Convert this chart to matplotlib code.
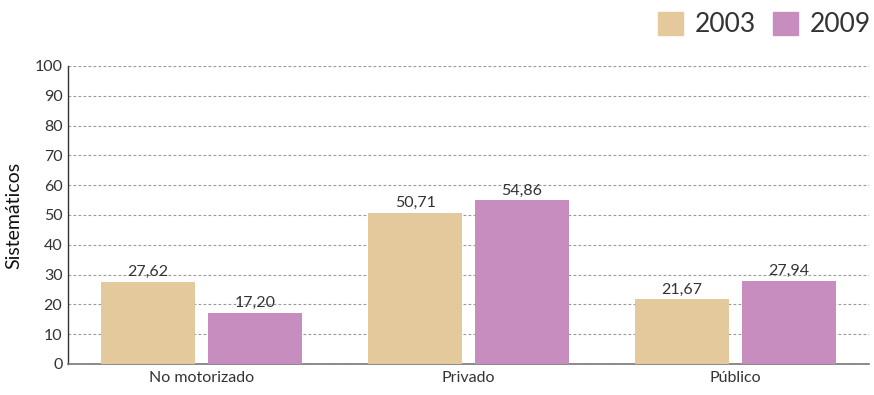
import numpy as np
import matplotlib
matplotlib.use("Agg")
import matplotlib.pyplot as plt
from matplotlib.patches import Patch

categories = ["No motorizado", "Privado", "Público"]
years = ["2003", "2009"]
values_2003 = [27.62, 50.71, 21.67]
values_2009 = [17.20, 54.86, 27.94]
colors = ["#e3c99c", "#c78dbf"]

plt.rcParams['font.family'] = ['Lato', 'DejaVu Sans']

fig = plt.figure(figsize=(8.74, 3.95), dpi=100)
ax = fig.add_axes([0.0778, 0.0785, 0.9165, 0.7545])

x = np.arange(len(categories))
w = 0.352
for vals, off, c in [(values_2003, -0.2, colors[0]), (values_2009, 0.2, colors[1])]:
    bars = ax.bar(x + off, vals, width=w, color=c, zorder=3)
    for b, v in zip(bars, vals):
        ax.text(b.get_x() + b.get_width() / 2, v + 1.0, f"{v:.2f}".replace(".", ","),
                ha="center", va="bottom", fontsize=11.5, color="#333333")

ax.set_xlim(-0.5, 2.5)
ax.set_ylim(0, 100)
ax.set_yticks(range(0, 101, 10))
ax.set_xticks(x)
ax.set_xticklabels(categories)
ax.yaxis.grid(True, linestyle=(0, (2.5, 2)), color="#999999", linewidth=0.8, zorder=0)
ax.tick_params(axis="both", length=0, labelsize=11.5, colors="#333333", pad=4)
ax.tick_params(axis="x", pad=5)
for s in ["top", "right"]:
    ax.spines[s].set_visible(False)
ax.spines["left"].set_color("#333333")
ax.spines["left"].set_linewidth(1.0)
ax.spines["bottom"].set_color("#777777")
ax.spines["bottom"].set_linewidth(1.2)
ax.set_ylabel("Sistemáticos", fontsize=14, color="#111111", labelpad=9)

handles = [Patch(color=c, label=y) for c, y in zip(colors, years)]
leg = fig.legend(handles=handles, loc="upper right", bbox_to_anchor=(1.024, 1.03), ncol=2,
                 frameon=False, fontsize=19, handlelength=0.95, handleheight=0.95,
                 handletextpad=0.45, columnspacing=0.65)
for t in leg.get_texts():
    t.set_color("#333333")

fig.savefig("out.png", dpi=100)
